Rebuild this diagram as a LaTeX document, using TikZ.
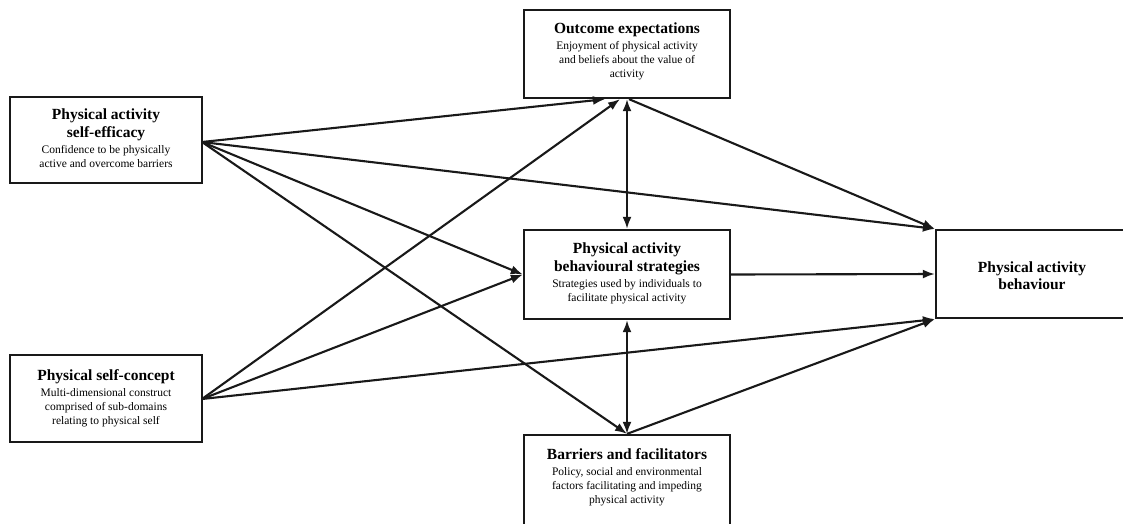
\documentclass[tikz,border=0pt]{standalone}
\usepackage{fontspec}
\setmainfont{Liberation Serif}
\usetikzlibrary{arrows.meta,calc}
\newcommand{\ttlf}{\bfseries\fontsize{15.5}{18}\selectfont}
\newcommand{\bdyf}{\fontsize{11.5}{14}\selectfont}
\begin{document}
\begin{tikzpicture}[x=1pt,y=-1pt,
  box/.style={draw=black!90,line width=2.3pt,rectangle,inner sep=0pt},
  txt/.style={align=center,inner sep=0pt,anchor=north,font=\bdyf},
  arr/.style={line width=2.1pt,draw=black!90,-{Latex[length=12pt,width=9pt]}},
  darr/.style={line width=2.1pt,draw=black!90,{Latex[length=12pt,width=9pt]}-{Latex[length=12pt,width=9pt]}}]
\clip (0,0) rectangle (1123,523);
\fill[white] (0,0) rectangle (1123,523);
% boxes
\node[box,minimum width=192pt,minimum height=86pt] (se) at (106,140) {};
\node[box,minimum width=192pt,minimum height=87pt] (sc) at (106,398.5) {};
\node[box,minimum width=206pt,minimum height=88pt] (oe) at (627,54) {};
\node[box,minimum width=206pt,minimum height=89pt] (st) at (627,274.5) {};
\node[box,minimum width=206pt,minimum height=110pt] (bf) at (627,490) {};
\node[box,minimum width=250pt,minimum height=88pt] (pb) at (1061,274) {};
% texts
\node[txt] (set) at (106,109) {{\ttlf Physical activity}\\[2pt]{\ttlf self-efficacy}\\[2pt]Confidence to be physically\\active and overcome barriers};
\node[txt] (sct) at (106,369) {{\ttlf Physical self-concept}\\[2pt]Multi-dimensional construct\\comprised of sub-domains\\relating to physical self};
\node[txt] (oet) at (627,23) {{\ttlf Outcome expectations}\\[2pt]Enjoyment of physical activity\\and beliefs about the value of\\activity};
\node[txt] (stt) at (627,243) {{\ttlf Physical activity}\\[2pt]{\ttlf behavioural strategies}\\[2pt]Strategies used by individuals to\\facilitate physical activity};
\node[txt] (bft) at (627,448) {{\ttlf Barriers and facilitators}\\[2pt]Policy, social and environmental\\factors facilitating and impeding\\physical activity};
\node[txt,anchor=center] (pbt) at (1032,276) {{\ttlf Physical activity}\\[2pt]{\ttlf behaviour}};
% anchor points
\coordinate (seo) at (202,142);
\coordinate (sco) at (202,399);
% arrows from self-efficacy
\draw[arr] (seo) -- ([xshift=-22pt]oe.south);
\draw[arr] (seo) -- (st.west);
\draw[arr] (seo) -- (pb.north west);
\draw[arr] (seo) -- (bf.north);
% arrows from self-concept
\draw[arr] (sco) -- ([xshift=-7pt]oe.south);
\draw[arr] (sco) -- (st.west);
\draw[arr] (sco) -- (pb.south west);
% others
\draw[darr] (oe.south) -- (st.north);
\draw[darr] (st.south) -- (bf.north);
\draw[arr] ([xshift=2pt]oe.south) -- (pb.north west);
\draw[arr] (st.east) -- (pb.west);
\draw[arr] (bf.north) -- (pb.south west);
\end{tikzpicture}
\end{document}
